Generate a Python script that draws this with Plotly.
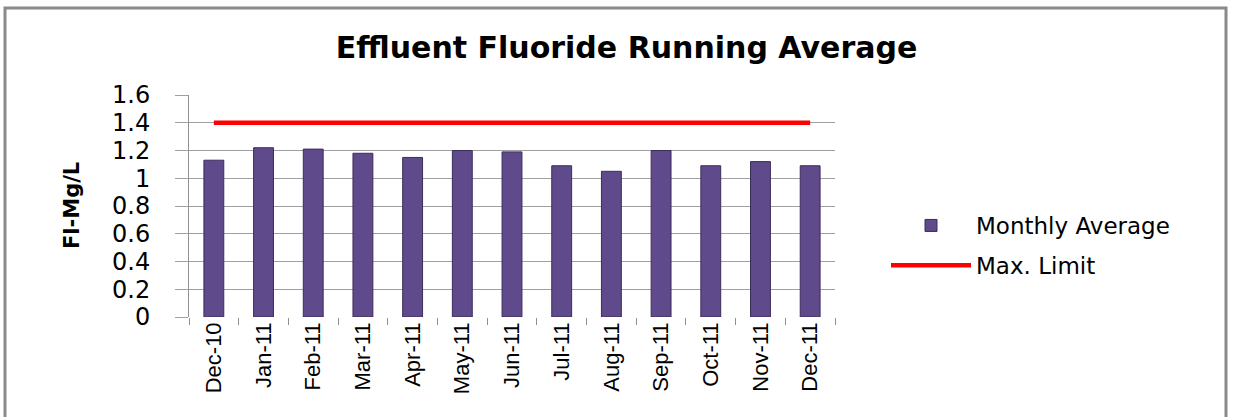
import plotly.graph_objects as go

months = ["Dec-10", "Jan-11", "Feb-11", "Mar-11", "Apr-11", "May-11", "Jun-11",
          "Jul-11", "Aug-11", "Sep-11", "Oct-11", "Nov-11", "Dec-11"]
monthly_average = [1.13, 1.22, 1.21, 1.18, 1.15, 1.20, 1.19, 1.09, 1.05, 1.20, 1.09, 1.12, 1.09]
max_limit = [1.4] * len(months)
y_ticks = [0, 0.2, 0.4, 0.6, 0.8, 1, 1.2, 1.4, 1.6]
y_tick_text = ["0", "0.2", "0.4", "0.6", "0.8", "1", "1.2", "1.4", "1.6"]

W, H = 1238, 417
L, R, T, B = 189, 835, 95, 317

fig = go.Figure()
fig.add_trace(go.Bar(
    x=months, y=monthly_average, name="Monthly Average",
    marker=dict(color="#5f4a8c", line=dict(color="#3b2d5a", width=1)),
    legendgroup="a",
))
fig.add_trace(go.Scatter(
    x=months, y=max_limit, name="Max. Limit", mode="lines",
    line=dict(color="#ff0000", width=4.5),
    legendgroup="b",
))

fig.update_layout(
    width=W, height=H,
    margin=dict(l=L, r=W - R, t=T, b=H - B, autoexpand=False),
    paper_bgcolor="white", plot_bgcolor="white",
    bargap=0.6,
    title=dict(text="<b>Effluent Fluoride Running Average</b>", x=(318 + 935) / 2 / W,
               xanchor="center", y=1 - 47 / H, yanchor="middle",
               font=dict(family="DejaVu Sans", size=30, color="black")),
    font=dict(family="DejaVu Sans", color="black"),
    showlegend=True,
    legend=dict(x=(886 - L) / (R - L), xanchor="left", y=(B - 204) / (B - T), yanchor="top",
                font=dict(family="DejaVu Sans", size=23, color="black"),
                tracegroupgap=7, traceorder="grouped", itemwidth=80,
                bgcolor="rgba(0,0,0,0)"),
    xaxis=dict(
        type="category", tickangle=-90, showgrid=False, showline=False,
        tickson="boundaries", ticks="outside", ticklen=7, tickcolor="#909090",
        tickfont=dict(family="Liberation Sans Narrow, Liberation Sans", size=22, color="black"),
        zeroline=False, fixedrange=True,
    ),
    yaxis=dict(
        range=[0, 1.6], tickvals=y_ticks, ticktext=y_tick_text,
        showgrid=True, gridcolor="#a0a0a0", gridwidth=1,
        showline=True, linecolor="#909090", linewidth=1,
        ticks="outside", ticklen=13, tickcolor="#a0a0a0",
        ticklabelstandoff=20,
        tickfont=dict(family="DejaVu Sans", size=24, color="black"),
        zeroline=False, fixedrange=True,
    ),
)

# y-axis title
fig.add_annotation(text="<b>Fl-Mg/L</b>", xref="paper", yref="paper",
                   x=(72 - L) / (R - L), y=0.5, textangle=-90, showarrow=False,
                   xanchor="center", yanchor="middle",
                   font=dict(family="DejaVu Sans", size=21, color="black"))

# outer chart border
fig.add_shape(type="rect", xref="paper", yref="paper",
              x0=(5 - L) / (R - L), x1=(1226 - L) / (R - L),
              y0=(B - 425) / (B - T), y1=(B - 8) / (B - T),
              line=dict(color="#8a8a8a", width=3), fillcolor="rgba(0,0,0,0)", layer="below")

fig.write_html("out.html", config={"displayModeBar": False},
               post_script="document.body.style.margin='0px';document.body.style.overflow='hidden';")
